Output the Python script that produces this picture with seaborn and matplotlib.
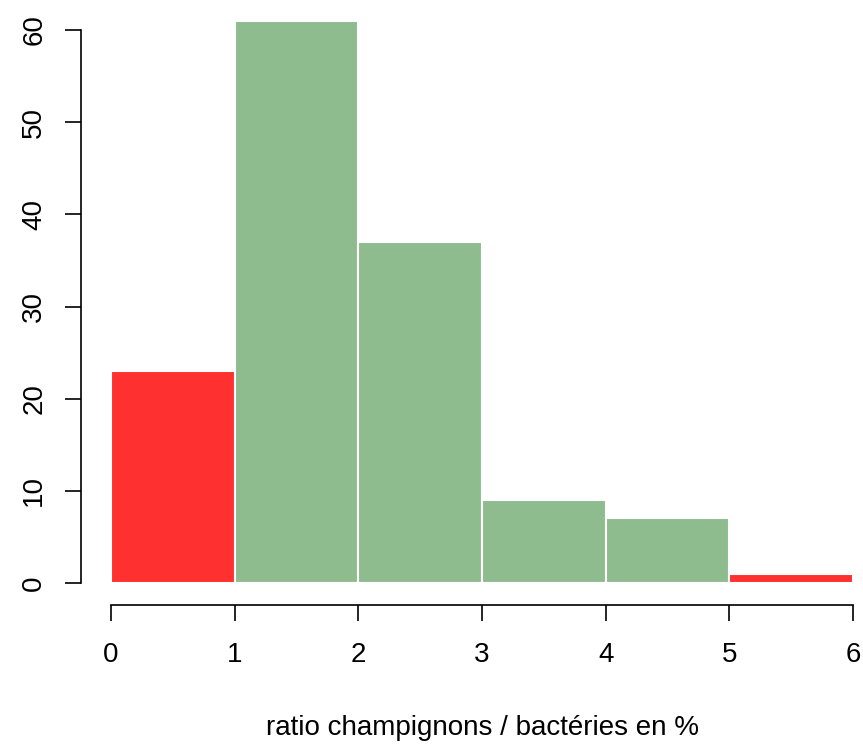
import matplotlib
matplotlib.use("Agg")
import matplotlib.pyplot as plt
import seaborn as sns
import numpy as np

# Data
bin_edges = [0, 1, 2, 3, 4, 5, 6]
counts = [23, 61, 37, 9, 7, 1]
bin_centers = [0.5, 1.5, 2.5, 3.5, 4.5, 5.5]
x_ticks = [0, 1, 2, 3, 4, 5, 6]
y_ticks = [0, 10, 20, 30, 40, 50, 60]
xlabel = "ratio champignons / bactéries en %"

RED = "#FF3030"
GREEN = "#8FBC8F"
bar_colors = [RED, GREEN, GREEN, GREEN, GREEN, RED]

sns.set_style("white")
plt.rcParams['font.family'] = ['Liberation Sans', 'DejaVu Sans']

W, H = 863, 744
fig = plt.figure(figsize=(W / 100, H / 100), dpi=100)

# axes region in pixels (R-style plot region)
xpx_per_unit = (853 - 111) / 6.0
ypx_per_unit = (583 - 30) / 60.0
xlim = (-0.24, 6.24)
ylim = (-0.04 * 61, 61 * 1.04)
left_px = 111 + xlim[0] * xpx_per_unit
width_px = (xlim[1] - xlim[0]) * xpx_per_unit
bottom_px_top = 583 - ylim[0] * ypx_per_unit  # from top
height_px = (ylim[1] - ylim[0]) * ypx_per_unit
ax = fig.add_axes([left_px / W, (H - bottom_px_top) / H, width_px / W, height_px / H])

sns.histplot(x=bin_centers, weights=counts, bins=bin_edges, ax=ax,
             stat="count", edgecolor="white", linewidth=1.5, alpha=1)
for p, c in zip(ax.patches, bar_colors):
    p.set_facecolor(c)
    p.set_alpha(1)

ax.set_xlim(*xlim)
ax.set_ylim(*ylim)
for s in ["top", "right"]:
    ax.spines[s].set_visible(False)
for s in ["left", "bottom"]:
    ax.spines[s].set_color("black")
    ax.spines[s].set_linewidth(1.2)
ax.spines["left"].set_bounds(0, 60)
ax.spines["bottom"].set_bounds(0, 6)

ax.set_xticks(x_ticks)
ax.set_yticks(y_ticks)
ax.set_xticklabels([str(t) for t in x_ticks])
ax.set_yticklabels([str(t) for t in y_ticks], rotation=90, va="center")
ax.tick_params(axis="both", direction="out", length=11.5, width=1.2, color="black",
               labelsize=20, labelcolor="black")
ax.tick_params(axis="x", pad=15, bottom=True)
ax.tick_params(axis="y", pad=13, left=True)
ax.set_xlabel(xlabel, fontsize=20, color="black", va="top")
ax.xaxis.set_label_coords(0.5, -(715 - bottom_px_top) / height_px)
ax.set_ylabel("")
ax.grid(False)

fig.savefig("out.png", dpi=100)
